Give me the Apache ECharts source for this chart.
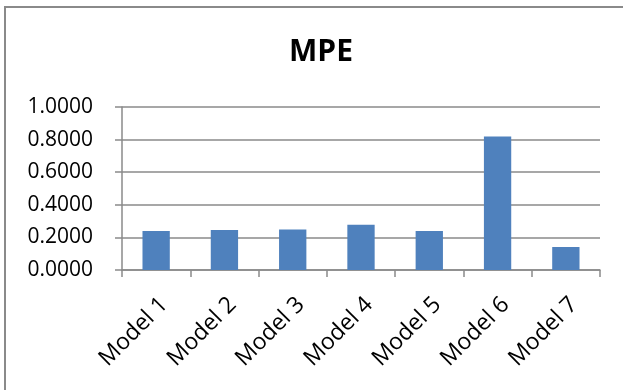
<!DOCTYPE html>
<html>
<head>
<meta charset="utf-8">
<script src="https://cdn.jsdelivr.net/npm/echarts@6/dist/echarts.min.js"></script>
<style>
  html, body { margin: 0; padding: 0; background: #ffffff; }
  #chart { width: 623px; height: 390px; }
</style>
</head>
<body>
<div id="chart"></div>
<script>
// MPE per model
const categories = ['Model 1', 'Model 2', 'Model 3', 'Model 4', 'Model 5', 'Model 6', 'Model 7'];
const mpeValues = [0.240, 0.246, 0.248, 0.277, 0.240, 0.819, 0.141];
const yTicks = { min: 0, max: 1, step: 0.2 };

const FONT = '"Open Sans", "Liberation Sans", sans-serif';
const GRID_GRAY = '#8a8a8a';

const chart = echarts.init(document.getElementById('chart'), null, { renderer: 'canvas' });

chart.setOption({
  animation: false,
  backgroundColor: '#ffffff',
  title: {
    text: 'MPE',
    left: 316,
    top: 32,
    textAlign: 'center',
    textStyle: { fontFamily: FONT, fontWeight: 'bold', fontSize: 30, color: '#000000' }
  },
  graphic: [{
    type: 'rect',
    shape: { x: 5, y: 7, width: 700, height: 500 },
    style: { fill: 'none', stroke: GRID_GRAY, lineWidth: 2 },
    silent: true,
    z: 100
  }],
  grid: { left: 122, right: 23, top: 107, bottom: 120, containLabel: false },
  xAxis: {
    type: 'category',
    data: categories,
    axisLine: { show: true, lineStyle: { color: GRID_GRAY, width: 1.5 } },
    axisTick: { show: true, length: 7, lineStyle: { color: GRID_GRAY, width: 1.5 } },
    axisLabel: {
      rotate: 45,
      margin: 23,
      interval: 0,
      verticalAlign: 'top',
      fontFamily: FONT,
      fontSize: 23,
      color: '#000000'
    }
  },
  yAxis: {
    type: 'value',
    min: yTicks.min,
    max: yTicks.max,
    interval: yTicks.step,
    axisLine: { show: true, lineStyle: { color: GRID_GRAY, width: 1.5 } },
    axisTick: { show: true, length: 7, lineStyle: { color: GRID_GRAY, width: 1.5 } },
    splitLine: { show: true, lineStyle: { color: GRID_GRAY, width: 1.5 } },
    axisLabel: {
      margin: 29,
      fontFamily: FONT,
      fontSize: 21,
      color: '#000000',
      formatter: v => v.toFixed(4)
    }
  },
  series: [{
    type: 'bar',
    data: mpeValues,
    barWidth: '40%',
    itemStyle: { color: '#4f81bd' },
    z: 3
  }]
});
</script>
</body>
</html>
